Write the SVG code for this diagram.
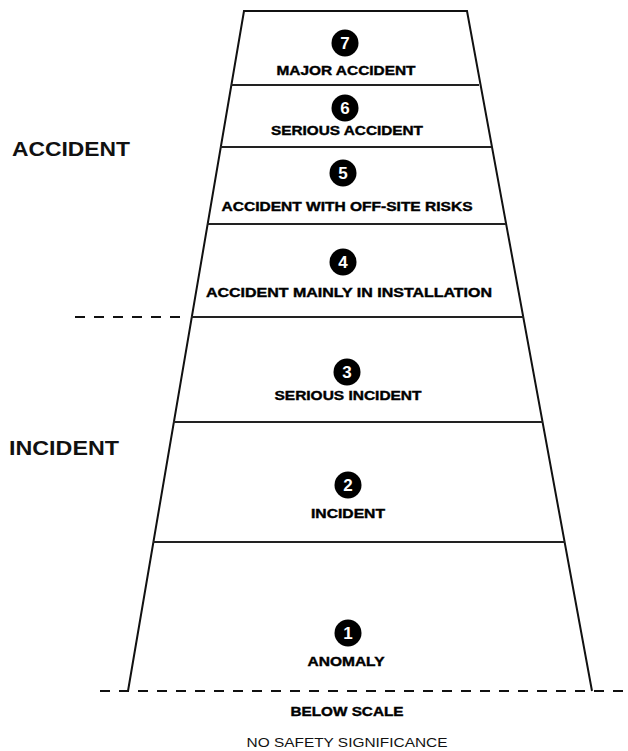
<svg xmlns="http://www.w3.org/2000/svg" width="628" height="751" viewBox="0 0 628 751">
<style>
.edge{stroke:#111;stroke-width:2;fill:none}
.band{stroke:#222;stroke-width:1.8;fill:none}
.dash{stroke:#111;stroke-width:2;stroke-dasharray:10 9;fill:none}
.lbl{font-family:"Liberation Sans",Arial,sans-serif;font-weight:bold;font-size:13px;fill:#000;stroke:#000;stroke-width:0.4;text-anchor:middle}
.big{font-family:"Liberation Sans",Arial,sans-serif;font-weight:bold;font-size:21px;fill:#111}
.num{font-family:"Liberation Sans",Arial,sans-serif;font-weight:bold;font-size:17px;fill:#fff;text-anchor:middle}
.dot{fill:#000}
.sub{font-family:"Liberation Sans",Arial,sans-serif;font-size:12px;fill:#111;text-anchor:middle}
</style>
<rect width="628" height="751" fill="#fff"/>
<g id="connectors">
<polyline class="edge" points="128,691 244,11 467,11 592,691"/>
<line class="band" x1="231" y1="85" x2="479" y2="85"/>
<line class="band" x1="220" y1="147" x2="491" y2="147"/>
<line class="band" x1="207" y1="224" x2="506" y2="224"/>
<line class="band" x1="191" y1="317" x2="524" y2="317"/>
<line class="band" x1="173" y1="422" x2="543" y2="422"/>
<line class="band" x1="153" y1="542" x2="565" y2="542"/>
<line class="dash" x1="75" y1="317" x2="182" y2="317"/>
<line class="dash" x1="100" y1="691" x2="628" y2="691"/>
</g>
<g id="accident-label"><text class="big" x="12" y="156" textLength="118" lengthAdjust="spacingAndGlyphs">ACCIDENT</text></g>
<g id="incident-label"><text class="big" x="9" y="455" textLength="110" lengthAdjust="spacingAndGlyphs">INCIDENT</text></g>
<g id="level7">
<circle class="dot" cx="345" cy="43" r="13.5"/><text class="num" x="345" y="49">7</text>
<text class="lbl" x="346" y="75" textLength="139" lengthAdjust="spacingAndGlyphs">MAJOR ACCIDENT</text>
</g>
<g id="level6">
<circle class="dot" cx="345" cy="108" r="13.5"/><text class="num" x="345" y="114">6</text>
<text class="lbl" x="347" y="135" textLength="152" lengthAdjust="spacingAndGlyphs">SERIOUS ACCIDENT</text>
</g>
<g id="level5">
<circle class="dot" cx="343" cy="173" r="13.5"/><text class="num" x="343" y="179">5</text>
<text class="lbl" x="347" y="211" textLength="251" lengthAdjust="spacingAndGlyphs">ACCIDENT WITH OFF-SITE RISKS</text>
</g>
<g id="level4">
<circle class="dot" cx="343" cy="262" r="13.5"/><text class="num" x="343" y="268">4</text>
<text class="lbl" x="349" y="297" textLength="286" lengthAdjust="spacingAndGlyphs">ACCIDENT MAINLY IN INSTALLATION</text>
</g>
<g id="level3">
<circle class="dot" cx="347" cy="372" r="13.5"/><text class="num" x="347" y="378">3</text>
<text class="lbl" x="348" y="400" textLength="147" lengthAdjust="spacingAndGlyphs">SERIOUS INCIDENT</text>
</g>
<g id="level2">
<circle class="dot" cx="348" cy="485" r="13.5"/><text class="num" x="348" y="491">2</text>
<text class="lbl" x="348" y="518" textLength="74" lengthAdjust="spacingAndGlyphs">INCIDENT</text>
</g>
<g id="level1">
<circle class="dot" cx="348" cy="633" r="13.5"/><text class="num" x="348" y="639">1</text>
<text class="lbl" x="346" y="666" textLength="77" lengthAdjust="spacingAndGlyphs">ANOMALY</text>
</g>
<g id="below-scale">
<text class="lbl" x="347" y="716" textLength="113" lengthAdjust="spacingAndGlyphs">BELOW SCALE</text>
<text class="sub" x="347" y="747" textLength="201" lengthAdjust="spacingAndGlyphs">NO SAFETY SIGNIFICANCE</text>
</g>
</svg>
